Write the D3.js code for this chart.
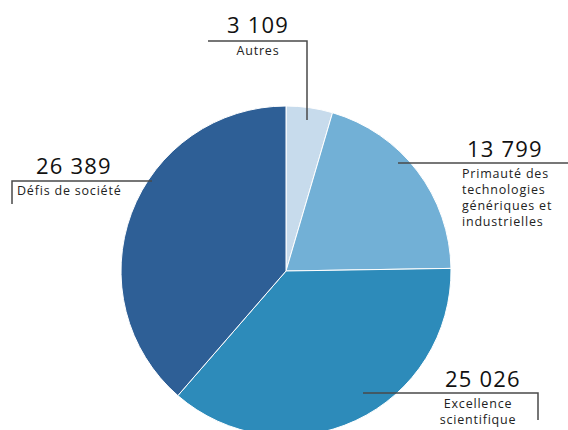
<!DOCTYPE html>
<html>
<head>
<meta charset="utf-8">
<script src="https://cdn.jsdelivr.net/npm/d3@7"></script>
<style>
  body { margin: 0; background: #fff; }
  svg { display: block; font-family: "Open Sans", sans-serif; }
</style>
</head>
<body>
<div id="chart"></div>
<script>
// data
const categories = ["Autres", "Primauté des technologies génériques et industrielles", "Excellence scientifique", "Défis de société"];
const values = [3109, 13799, 25026, 26389];
const valueLabels = ["3 109", "13 799", "25 026", "26 389"];
const labelLines = [["Autres"], ["Primauté des", "technologies", "génériques et", "industrielles"], ["Excellence", "scientifique"], ["Défis de société"]];
const colors = ["#c7dbec", "#72b0d6", "#2d8bba", "#2e5f96"];

const width = 568, height = 430;
const cx = 286, cy = 271, radius = 165;

const svg = d3.select("#chart").append("svg")
    .attr("width", width)
    .attr("height", height);

const data = categories.map((c, i) => ({ name: c, value: values[i], i: i }));

const pie = d3.pie().sort(null).value(d => d.value);
const arc = d3.arc().innerRadius(0).outerRadius(radius);

const g = svg.append("g").attr("transform", `translate(${cx},${cy})`);

g.selectAll("path.slice")
    .data(pie(data))
    .enter().append("path")
    .attr("class", "slice")
    .attr("d", arc)
    .attr("fill", d => colors[d.data.i])
    .attr("stroke", "#fff")
    .attr("stroke-width", 1);

// label layout (annotation lines + text positions)
const layout = [
    { line: [[307, 120], [307, 41], [208, 41]], num: [258, 33, "middle"], txt: [258, 55, "middle"] },
    { line: [[398, 163], [568, 163]], num: [505, 157, "middle"], txt: [462, 178, "start"] },
    { line: [[363, 393], [538, 393], [538, 420]], num: [483, 387, "middle"], txt: [478, 408, "middle"] },
    { line: [[152, 181], [12, 181], [12, 204]], num: [74, 174, "middle"], txt: [17, 195, "start"] }
];

const lineGen = d3.line();

const labels = svg.selectAll("g.label")
    .data(data)
    .enter().append("g")
    .attr("class", "label");

labels.append("path")
    .attr("d", d => lineGen(layout[d.i].line))
    .attr("fill", "none")
    .attr("stroke", "#4a4a4a")
    .attr("stroke-width", 1.5);

labels.append("text")
    .attr("x", d => layout[d.i].num[0])
    .attr("y", d => layout[d.i].num[1])
    .attr("text-anchor", d => layout[d.i].num[2])
    .attr("font-size", 22)
    .attr("font-weight", 500)
    .attr("letter-spacing", 1.2)
    .attr("fill", "#111")
    .text(d => valueLabels[d.i]);

// one text per line so the lines stack cleanly
labels.each(function(d) {
    const sel = d3.select(this);
    labelLines[d.i].forEach((s, k) => {
        sel.append("text")
            .attr("x", layout[d.i].txt[0])
            .attr("y", layout[d.i].txt[1] + k * 16)
            .attr("text-anchor", layout[d.i].txt[2])
            .attr("font-size", 12.5)
            .attr("letter-spacing", 0.8)
            .attr("fill", "#222")
            .text(s);
    });
});
</script>
</body>
</html>
